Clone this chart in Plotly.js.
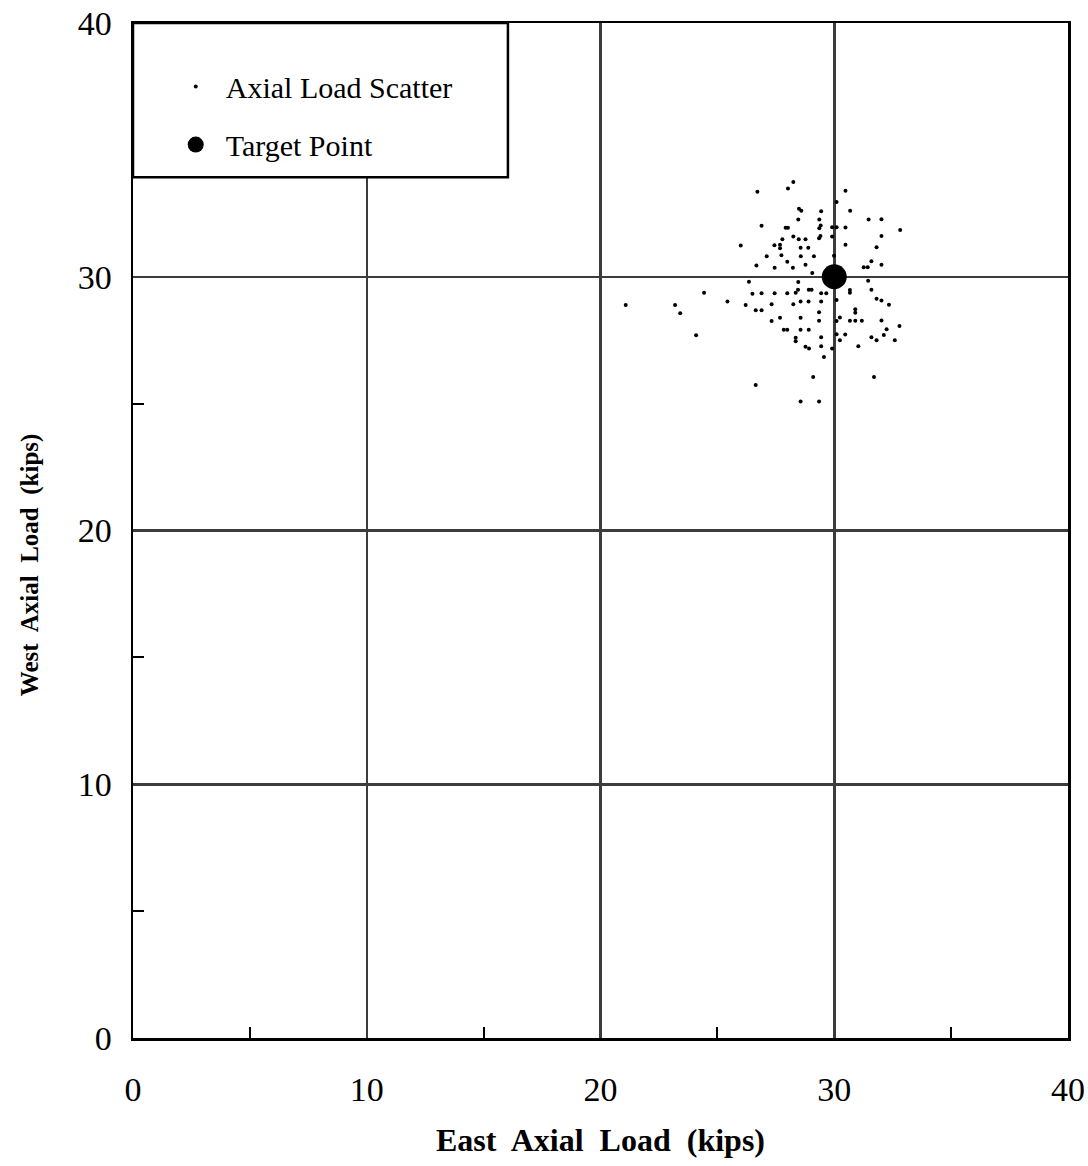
<!DOCTYPE html>
<html>
<head>
<meta charset="utf-8">
<script src="https://cdn.plot.ly/plotly-3.0.1.min.js"></script>
<style>
html,body{margin:0;padding:0;background:#fff;}
#chart{width:1088px;height:1166px;}
</style>
</head>
<body>
<div id="chart"></div>
<script>
// Axial load scatter (kips)
var eastLoad = [
26.71,28.02,28.25,30.48,30.10,28.49,28.59,29.44,30.68,28.46,29.36,31.47,32.02,26.89,27.92,28.02,29.42,29.36,29.91,30.10,
30.48,32.82,28.25,28.48,28.77,27.78,29.41,29.35,29.91,32.02,26.00,27.44,27.68,27.68,28.56,28.89,30.48,31.81,27.74,27.11,
28.57,29.13,29.99,27.99,31.59,28.77,26.67,27.45,28.23,31.26,31.43,32.02,29.06,26.35,28.46,31.45,24.43,26.50,26.89,27.45,
27.99,28.45,28.35,28.91,29.03,29.44,29.66,30.67,30.67,31.59,21.08,23.19,23.41,25.43,26.21,27.32,28.25,28.56,28.90,29.44,
30.10,31.81,32.02,32.34,26.64,26.89,29.35,30.90,30.90,24.09,27.32,27.68,28.56,29.35,30.10,30.24,30.67,30.90,31.18,32.02,
32.79,27.84,27.99,28.56,28.91,32.24,30.10,30.47,28.35,28.35,29.44,30.24,31.59,31.81,32.12,32.59,28.77,28.92,29.44,29.91,
31.03,29.56,29.10,31.70,26.64,28.56,29.35
];
var westLoad = [
33.35,33.48,33.73,33.39,32.95,32.68,32.60,32.58,32.60,32.26,32.26,32.26,32.27,32.01,31.93,31.93,32.02,31.91,31.95,31.95,
31.94,31.84,31.59,31.48,31.48,31.48,31.61,31.52,31.59,31.61,31.23,31.24,31.26,31.12,31.14,31.14,31.26,31.16,30.85,30.81,
30.81,30.81,30.83,30.59,30.61,30.47,30.44,30.35,30.35,30.37,30.37,30.47,30.15,29.80,29.79,29.84,29.37,29.33,29.35,29.35,
29.35,29.49,29.37,29.49,29.49,29.35,29.35,29.48,29.37,29.49,28.89,28.89,28.56,29.02,28.89,28.92,28.92,29.02,29.02,29.02,
29.08,29.13,29.06,28.90,28.68,28.68,28.60,28.72,28.58,27.69,28.26,28.38,28.38,28.27,28.26,28.39,28.27,28.27,28.27,28.28,
28.06,27.91,27.91,27.91,27.91,27.93,27.73,27.72,27.60,27.46,27.62,27.50,27.62,27.50,27.70,27.50,27.24,27.17,27.26,27.17,
27.26,26.84,26.05,26.05,25.73,25.08,25.08
];
var targetEast = [30];
var targetWest = [30];
var tickVals = [0,10,20,30,40];
var tickText = ['0','10','20','30','40'];

var serif = 'Liberation Serif, Times New Roman, serif';

var traces = [
  {
    x: eastLoad, y: westLoad, type: 'scatter', mode: 'markers',
    name: 'Axial Load Scatter', legendgroup: 'a',
    marker: {color: '#000', size: 4, symbol: 'circle'}
  },
  {
    x: targetEast, y: targetWest, type: 'scatter', mode: 'markers',
    name: 'Target Point', legendgroup: 'b',
    marker: {color: '#000', size: 25, symbol: 'circle'}
  }
];

var axisCommon = {
  range: [0, 40],
  tickvals: tickVals, ticktext: tickText,
  ticks: '',
  showline: true, mirror: true, linecolor: '#000', linewidth: 2.5,
  showgrid: true, gridcolor: '#3c3c3c', gridwidth: 2.5,
  zeroline: false,
  tickfont: {family: serif, size: 34, color: '#000'},
  minor: {tickvals: [5,15,25,35], ticks: 'inside', ticklen: 11, tickwidth: 2, tickcolor: '#000', showgrid: false},
  fixedrange: true
};

var xaxis = Object.assign({}, axisCommon, {
  ticklabelstandoff: 20,
  title: {text: 'East&nbsp; Axial&nbsp; Load&nbsp; (kips)', font: {family: serif, size: 32, color: '#000', weight: 'bold'}, standoff: 22}
});
var yaxis = Object.assign({}, axisCommon, {
  ticklabelstandoff: 12
});

var layout = {
  width: 1088, height: 1166,
  margin: {l: 133, r: 20, t: 23, b: 128},
  paper_bgcolor: '#fff', plot_bgcolor: '#fff',
  xaxis: xaxis, yaxis: yaxis,
  showlegend: true,
  legend: {
    x: 0.035, y: 0.963, xanchor: 'left', yanchor: 'top',
    bgcolor: 'rgba(0,0,0,0)', borderwidth: 0,
    font: {family: serif, size: 30, color: '#000'},
    itemwidth: 50, tracegroupgap: 16
  },
  annotations: [{
    text: 'West&nbsp; Axial&nbsp; Load&nbsp; (kips)', textangle: -90,
    xref: 'paper', yref: 'paper', x: -0.110, y: 0.466,
    xanchor: 'center', yanchor: 'middle', showarrow: false,
    font: {family: serif, size: 25, color: '#000', weight: 'bold'}
  }],
  shapes: [{
    type: 'rect', xref: 'paper', yref: 'paper',
    x0: 0, x1: 0.401, y0: 0.848, y1: 1,
    line: {color: '#000', width: 2.5}, fillcolor: '#fff', layer: 'above'
  }]
};

Plotly.newPlot('chart', traces, layout, {displayModeBar: false, staticPlot: true});
</script>
</body>
</html>
